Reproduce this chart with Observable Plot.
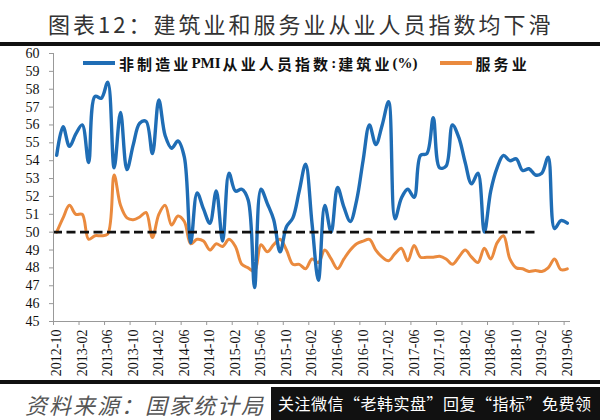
<!DOCTYPE html>
<html><head><meta charset="utf-8">
<script src="https://cdn.jsdelivr.net/npm/d3@7"></script>
<script src="https://cdn.jsdelivr.net/npm/@observablehq/plot@0.6"></script>
<style>
body{margin:0;background:#fff;}
#wrap{position:relative;width:600px;height:420px;overflow:hidden;background:#fff;}
#title{position:absolute;left:48px;top:8px;font:22px "Noto Sans CJK SC";letter-spacing:3px;color:#333;white-space:nowrap;line-height:30px;}
#rule1{position:absolute;left:0;top:42px;width:600px;height:4px;background:#111;}
#chart{position:absolute;left:0;top:46px;}
#legend{position:absolute;left:83px;top:52px;height:22px;display:flex;align-items:center;font:bold 15px "Liberation Serif","Noto Sans CJK SC";color:#111;white-space:nowrap;}
.sw{display:inline-block;width:32px;height:3.5px;margin-right:4px;}
.cj{letter-spacing:3.1px;}
#rule2{position:absolute;left:0;top:380px;width:600px;height:4px;background:#111;}
#source{position:absolute;left:25px;top:388px;font:italic 22px "Noto Sans CJK SC";color:#555;letter-spacing:2px;line-height:32px;white-space:nowrap;}
#promo{position:absolute;left:271px;top:387px;width:329px;height:33px;background:#111;color:#fff;font:16px "Noto Sans CJK SC";letter-spacing:0.5px;line-height:33px;padding-left:7px;box-sizing:border-box;white-space:nowrap;overflow:hidden;}
</style></head>
<body>
<div id="wrap">
  <div id="title">图表12：建筑业和服务业从业人员指数均下滑</div>
  <div id="rule1"></div>
  <div id="chart"></div>
  <div id="legend"></div>
  <div id="rule2"></div>
  <div id="source">资料来源：国家统计局</div>
  <div id="promo">关注微信“老韩实盘”回复“指标”免费领</div>
</div>
<script>
// Monthly data, 2012-10 .. 2019-06 (81 months)
const construction = [
  54.3, 55.9, 54.8, 55.5, 56.0, 53.9, 57.6, 57.5, 58.4, 53.6,
  56.7, 53.5, 54.9, 56.1, 56.2, 54.4, 57.4, 55.4, 54.7, 55.1,
  54.2, 49.4, 52.2, 51.3, 50.5, 52.3, 49.5, 53.3, 52.3, 52.4,
  51.8, 46.9, 52.4, 51.6, 50.7, 48.9, 50.3, 50.8, 52.3, 53.8,
  50.5, 47.3, 51.5, 50.0, 52.5, 51.4, 50.6, 51.8, 54.0, 56.0,
  54.9, 56.0, 57.3, 50.75, 51.9, 52.4, 51.95, 54.3, 54.4, 56.4,
  53.6, 53.7, 56.0, 55.3, 53.9, 52.7, 53.3, 50.0, 52.3, 53.6,
  54.3, 54.0, 54.1, 53.45, 53.55, 53.2, 53.3, 54.2, 50.2, 50.65,
  50.5
];
const services = [
  50.0, 50.8, 51.5, 51.0, 51.0, 49.6, 49.8, 49.8, 49.9, 53.2,
  51.5, 50.8, 50.7, 50.85, 51.1, 49.7, 51.0, 51.5, 50.4, 50.9,
  50.6, 49.35, 49.6, 49.5, 49.0, 49.35, 49.2, 49.6, 49.2, 48.2,
  48.0, 47.8, 49.3, 48.9, 49.3, 49.6, 49.0, 48.2, 48.2, 47.95,
  48.5, 48.3, 49.0, 48.5, 47.95, 48.5, 49.0, 49.35, 49.5, 49.6,
  49.0, 48.6, 48.4, 48.8, 49.1, 48.4, 49.25, 48.6, 48.6, 48.6,
  48.65, 48.5, 48.2, 48.6, 49.0, 48.6, 48.3, 49.1, 48.5, 49.4,
  49.8, 48.5, 48.0, 47.95, 47.8, 47.85, 47.8, 48.0, 48.5, 47.9,
  47.95
];
const tickLabels = ["2012-10","2013-02","2013-06","2013-10","2014-02","2014-06","2014-10",
  "2015-02","2015-06","2015-10","2016-02","2016-06","2016-10","2017-02","2017-06","2017-10",
  "2018-02","2018-06","2018-10","2019-02","2019-06"];
const seriesNames = ["非制造业PMI从业人员指数:建筑业(%)", "服务业"];
const colors = ["#1f6db5", "#ea8a3e"];
const yTicks = d3.range(45, 61);
const refLevel = 50;
const refEndLabel = "2019-02"; // dashed 50 line runs from the first month up to this tick

const labelIdx = tickLabels.map((_, k) => k * 4);          // category centres
const boundaries = tickLabels.map((_, k) => k * 4 - 0.5);  // tick marks between categories
const refEnd = tickLabels.indexOf(refEndLabel) * 4 - 0.5;

const rows = (arr) => arr.map((v, i) => ({i, v}));

const chart = Plot.plot({
  width: 600, height: 334,
  marginTop: 7, marginBottom: 59, marginLeft: 53, marginRight: 30,
  style: {fontFamily: "Liberation Serif", fontSize: "14px", color: "#111", background: "transparent"},
  x: {domain: [-0.5, 80.5]},
  y: {domain: [45, 60]},
  marks: [
    Plot.line(rows(services), {x: "i", y: "v", stroke: colors[1], strokeWidth: 3, curve: "catmull-rom"}),
    Plot.line(rows(construction), {x: "i", y: "v", stroke: colors[0], strokeWidth: 3.4, curve: "catmull-rom"}),
    Plot.ruleY([refLevel], {x1: -0.5, x2: refEnd, stroke: "#111", strokeWidth: 2.6, strokeDasharray: "9,4.5"}),
    Plot.ruleX([-0.5], {stroke: "#999"}),
    Plot.ruleY([45], {stroke: "#999"}),
    Plot.axisY({ticks: yTicks, tickSize: 4, tickPadding: 10, stroke: "#999", fill: "#111", label: null, fontSize: 14}),
    Plot.axisX({ticks: boundaries, tickSize: 4, tickFormat: () => "", stroke: "#999", label: null}),
    Plot.axisX({ticks: labelIdx, tickSize: 0, tickPadding: 8, tickRotate: -90, tickFormat: (d) => tickLabels[labelIdx.indexOf(d)], fill: "#111", label: null, fontSize: 14})
  ]
});
document.getElementById("chart").appendChild(chart);

// legend: Latin runs unspaced, CJK runs letter-spaced
const legend = document.getElementById("legend");
seriesNames.forEach((name, k) => {
  const sw = document.createElement("span");
  sw.className = "sw"; sw.style.background = colors[k];
  if (k > 0) sw.style.marginLeft = "20px";
  legend.appendChild(sw);
  name.split(/([A-Za-z%():]+)/).filter(s => s).forEach(part => {
    const t = document.createElement("span");
    t.textContent = part;
    if (!/^[A-Za-z%():]+$/.test(part)) t.className = "cj";
    else t.style.margin = "0 2px 0 0";
    legend.appendChild(t);
  });
});
</script>
</body></html>
